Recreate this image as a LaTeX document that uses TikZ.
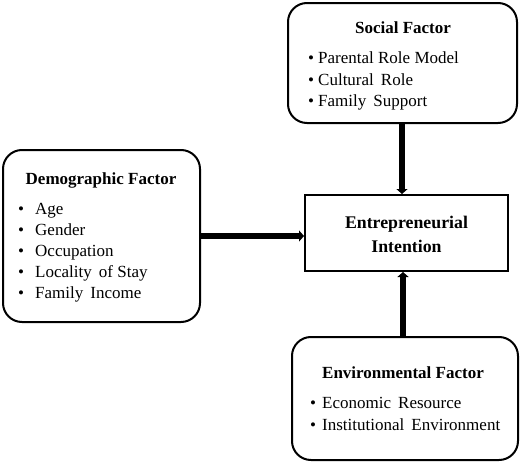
\documentclass[tikz,border=0pt]{standalone}
\usepackage{fontspec}
\setmainfont{Liberation Serif}
\usetikzlibrary{arrows.meta}
\begin{document}
\begin{tikzpicture}[x=1pt,y=-1pt,
  factorbox/.style={draw,line width=2pt,rounded corners=19pt,inner sep=0pt},
  mainbox/.style={draw,line width=2pt,inner sep=0pt},
  txt/.style={font=\fontsize{17}{21}\selectfont,inner sep=0pt,anchor=base west},
  ttl/.style={font=\fontsize{17}{21}\selectfont\bfseries,inner sep=0pt,anchor=base},
  bigttl/.style={font=\fontsize{17.8}{21}\selectfont\bfseries,inner sep=0pt,anchor=base},
  bigarrow/.style={line width=6pt,-{Triangle[width=11pt,length=5pt]}}]
\useasboundingbox (0,0) rectangle (520,463);
% boxes
\node[factorbox,minimum width=229pt,minimum height=120pt] (soc) at (402.5,63) {};
\node[factorbox,minimum width=197pt,minimum height=172pt] (dem) at (101.5,236) {};
\node[factorbox,minimum width=226pt,minimum height=123pt] (env) at (405,398.5) {};
\node[mainbox,minimum width=203pt,minimum height=76pt] (ei) at (406.5,233) {};
% titles
\node[ttl] (socT) at (403,33) {Social Factor};
\node[ttl] (demT) at (101,184) {Demographic Factor};
\node[ttl] (envT) at (403,378) {Environmental Factor};
\node[bigttl] (ei1) at (406.5,228) {Entrepreneurial};
\node[bigttl] (ei2) at (406.5,252) {Intention};
% social items
\node[txt] (s1) at (308,63) {\makebox[10pt][l]{\textbullet}Parental Role Model};
\node[txt] (s2) at (308,85) {\makebox[10pt][l]{\textbullet}Cultural\, Role};
\node[txt] (s3) at (308,106) {\makebox[10pt][l]{\textbullet}Family\, Support};
% demographic items
\node[txt] (d1) at (18,214) {\makebox[17pt][l]{\textbullet}Age};
\node[txt] (d2) at (18,235) {\makebox[17pt][l]{\textbullet}Gender};
\node[txt] (d3) at (18,256) {\makebox[17pt][l]{\textbullet}Occupation};
\node[txt] (d4) at (18,277) {\makebox[17pt][l]{\textbullet}Locality\, of Stay};
\node[txt] (d5) at (18,298) {\makebox[17pt][l]{\textbullet}Family\, Income};
% environmental items
\node[txt] (e1) at (310,408) {\makebox[12pt][l]{\textbullet}Economic\, Resource};
\node[txt] (e2) at (310,430) {\makebox[12pt][l]{\textbullet}Institutional\, Environment};
% arrows
\draw[bigarrow] (soc.south -| 402,0) -- (ei.north -| 402,0);
\draw[bigarrow] (dem.east |- 0,236) -- (ei.west |- 0,236);
\draw[bigarrow] (env.north -| 403,0) -- (ei.south -| 403,0);
\end{tikzpicture}
\end{document}
